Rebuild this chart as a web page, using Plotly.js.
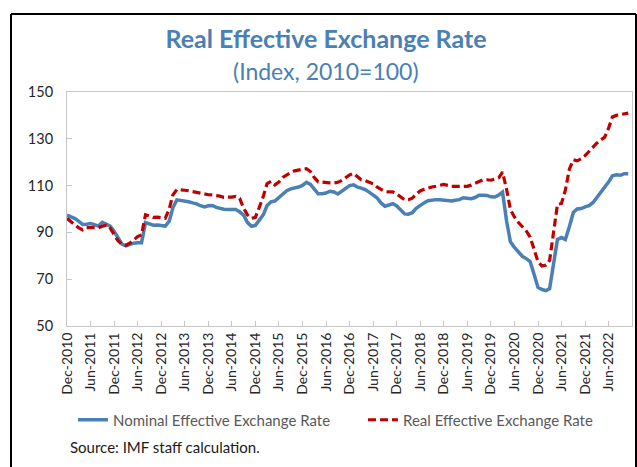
<!DOCTYPE html>
<html>
<head>
<meta charset="utf-8">
<script src="https://cdn.plot.ly/plotly-3.0.1.min.js"></script>
<style>
  html, body { margin: 0; padding: 0; background: #fff; }
  #chart { width: 637px; height: 467px; }
</style>
</head>
<body>
<div id="chart"></div>
<script>
// Monthly index values, Dec-2010 .. Nov-2022
const START_YEAR = 2010;
const START_MONTH = 12;

const NEER = [
  97.4, 96.8, 95.9, 94.8, 93.4, 93.5, 93.8, 93.3, 92.7, 94.3, 93.7, 92.7,
  90.5, 87.8, 85.0, 84.2, 84.8, 85.4, 85.6, 85.6, 94.2, 93.6, 93.1, 93.2,
  93.0, 92.7, 94.8, 100.5, 103.9, 103.7, 103.4, 103.1, 102.6, 102.2, 101.4, 100.9,
  101.4, 101.5, 100.7, 100.2, 99.9, 99.8, 99.8, 99.8, 98.8, 97.4, 94.2, 92.6,
  93.0, 95.5, 97.6, 101.4, 103.1, 103.4, 104.9, 106.7, 107.8, 108.6, 108.9, 109.4,
  110.1, 111.4, 110.5, 108.5, 106.5, 106.5, 106.8, 107.6, 107.3, 106.4, 107.5, 108.9,
  110.0, 110.3, 109.3, 108.9, 108.3, 107.2, 106.0, 104.8, 102.6, 101.2, 101.7, 102.3,
  101.3, 99.4, 97.9, 97.8, 98.4, 100.3, 101.6, 102.6, 103.5, 103.8, 104.0, 104.0,
  103.9, 103.6, 103.4, 103.7, 104.0, 104.8, 104.5, 104.4, 104.9, 105.9, 105.9, 105.8,
  105.2, 105.1, 106.0, 107.2, 95.0, 86.0, 83.6, 81.5, 79.8, 78.8, 77.5, 72.0,
  66.5, 65.6, 65.1, 66.0, 78.0, 87.0, 87.8, 87.0, 92.4, 98.5, 100.0, 100.2,
  100.9, 101.4, 102.8, 104.8, 106.8, 109.0, 111.5, 114.2, 114.6, 114.4, 115.1, 115.1
];

const REER = [
  96.0, 94.8, 93.2, 92.0, 91.1, 92.0, 92.0, 91.7, 92.0, 92.6, 93.1, 91.8,
  89.0, 86.4, 84.8, 84.5, 85.4, 86.8, 88.2, 89.0, 97.5, 97.0, 96.4, 96.5,
  96.3, 96.0, 100.0, 106.0, 108.3, 108.3, 108.0, 107.8, 107.4, 107.1, 106.9, 106.3,
  106.1, 106.0, 105.9, 105.5, 105.0, 104.9, 105.1, 105.4, 104.5, 100.3, 97.5, 96.0,
  96.4, 100.8, 105.5, 110.8, 111.8, 110.3, 111.5, 113.5, 114.6, 115.6, 116.3, 116.8,
  117.0, 117.2, 116.0, 113.5, 111.6, 111.5, 111.5, 111.2, 111.1, 111.4, 112.2, 113.4,
  114.6, 115.2, 113.6, 112.5, 112.1, 111.5, 110.8, 109.4, 108.2, 107.4, 107.3, 107.3,
  106.4, 105.0, 103.9, 104.0, 104.6, 106.4, 107.7, 108.4, 109.0, 109.4, 109.7, 110.1,
  110.5, 110.1, 109.7, 109.7, 109.7, 109.7, 109.7, 110.2, 110.9, 111.8, 112.5, 112.5,
  112.3, 112.8, 113.4, 115.8, 108.5, 99.8, 96.6, 94.3, 92.4, 90.6, 88.0, 82.5,
  77.5, 75.6, 76.0, 78.0, 90.0, 102.0, 102.4, 108.0, 117.0, 121.0, 120.6, 121.5,
  122.8, 124.8, 126.8, 128.1, 129.5, 130.6, 134.5, 139.3, 140.0, 140.3, 140.6, 141.0
];

const SERIES_NAMES = ['Nominal Effective Exchange Rate', 'Real Effective Exchange Rate'];
const Y_RANGE = [50, 150];
const Y_STEP = 20;
const X_RANGE = ['2010-12-01', '2022-11-30'];

// month strings for each point
const months = NEER.map((_, i) => {
    const m0 = START_MONTH - 1 + i;
    const y = START_YEAR + Math.floor(m0 / 12);
    const m = (m0 % 12) + 1;
    return `${y}-${String(m).padStart(2, '0')}-01`;
});

// plot box in pixels, used to place the outer frame
const L = 67, R = 5, T = 92, B = 141;
const W = 637 - L - R, H = 467 - T - B;
const px = x => (x - L) / W;
const py = y => (467 - B - y) / H;

const FONT = 'Lato, "Open Sans", sans-serif';
const BLUE = '#4a80b3';
const RED = '#c00000';
const GREY_LINE = '#c6c6c6';

const data = [
    {
        x: months, y: NEER, name: SERIES_NAMES[0],
        type: 'scatter', mode: 'lines', legend: 'legend',
        line: { color: BLUE, width: 3.5 },
    },
    {
        x: months, y: REER, name: SERIES_NAMES[1],
        type: 'scatter', mode: 'lines', legend: 'legend2',
        line: { color: RED, width: 3.2, dash: '8px,4px' },
    },
];

// one legend per series so the row never wraps
const legendAt = xPix => ({
    orientation: 'h', xref: 'container', x: xPix / 637, xanchor: 'left',
    yref: 'container', y: 1 - 420 / 467, yanchor: 'middle',
    font: { family: FONT, size: 15, color: '#595959' },
    bgcolor: 'rgba(0,0,0,0)',
});

const frame = { color: '#000', width: 2 };
const layout = {
    width: 637, height: 467,
    margin: { l: L, r: R, t: T, b: B },
    paper_bgcolor: '#fff', plot_bgcolor: '#fff',
    font: { family: FONT, color: '#262626', size: 13 },
    showlegend: true,
    title: {
        text: '<b>Real Effective Exchange Rate</b>',
        font: { family: FONT, size: 25, color: BLUE },
        x: 326 / 637, xanchor: 'center', xref: 'container',
        y: 1 - 39 / 467, yanchor: 'middle', yref: 'container',
    },
    xaxis: {
        type: 'date', range: X_RANGE,
        tick0: '2010-12-01', dtick: 'M6', tickformat: '%b-%Y',
        tickangle: -90, ticks: 'inside', ticklen: 5, tickcolor: GREY_LINE,
        tickfont: { family: FONT, size: 14, color: '#262626' },
        showline: true, linecolor: GREY_LINE, linewidth: 1, mirror: true,
        showgrid: false, zeroline: false, fixedrange: true,
    },
    yaxis: {
        range: Y_RANGE, dtick: Y_STEP, tick0: 50,
        ticks: 'inside', ticklen: 5, tickcolor: GREY_LINE,
        tickfont: { family: FONT, size: 14.5, color: '#262626' },
        ticklabelstandoff: 10,
        showline: true, linecolor: GREY_LINE, linewidth: 1, mirror: true,
        showgrid: false, zeroline: false, fixedrange: true,
    },
    legend: legendAt(73),
    legend2: legendAt(363),
    annotations: [
        {
            text: '(Index, 2010=100)', showarrow: false,
            xref: 'paper', yref: 'paper', x: px(326), y: py(71),
            xanchor: 'center', yanchor: 'middle',
            font: { family: FONT, size: 23, color: BLUE },
        },
        {
            text: 'Source: IMF staff calculation.', showarrow: false,
            xref: 'paper', yref: 'paper', x: px(68), y: py(447),
            xanchor: 'left', yanchor: 'middle',
            font: { family: FONT, size: 15, color: '#1a1a1a' },
        },
    ],
    shapes: [
        { type: 'line', xref: 'paper', yref: 'paper', x0: px(11), x1: px(636), y0: py(14), y1: py(14), line: frame },
        { type: 'line', xref: 'paper', yref: 'paper', x0: px(11), x1: px(11), y0: py(14), y1: py(480), line: frame },
        { type: 'line', xref: 'paper', yref: 'paper', x0: px(636), x1: px(636), y0: py(14), y1: py(480), line: frame },
    ],
};

Plotly.newPlot('chart', data, layout, { displayModeBar: false, staticPlot: true });
</script>
</body>
</html>
